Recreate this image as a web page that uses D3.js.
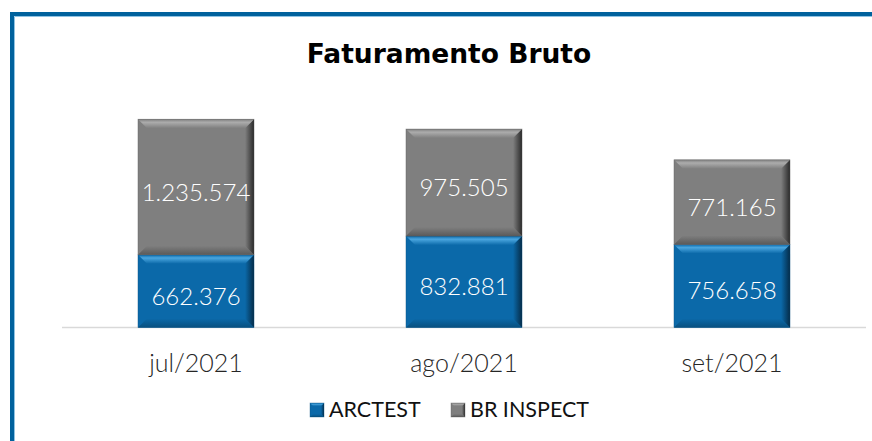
<!DOCTYPE html>
<html>
<head>
<meta charset="utf-8">
<script src="https://cdn.jsdelivr.net/npm/d3@7"></script>
<style>
  body { margin: 0; background: #fff; }
  svg text { font-family: "Century Gothic", Lato, sans-serif; }
</style>
</head>
<body>
<svg width="872" height="441"></svg>
<script>
var categories = ["jul/2021", "ago/2021", "set/2021"];
var arctest = [662376, 832881, 756658];
var brInspect = [1235574, 975505, 771165];
var seriesNames = ["ARCTEST", "BR INSPECT"];

var svg = d3.select("svg"),
    width = +svg.attr("width"),
    height = +svg.attr("height");

// pt-br number format: 1.235.574
var fmt = d3.formatLocale({decimal: ",", thousands: ".", grouping: [3], currency: ["R$", ""]}).format(",d");

// colours for each series
var pal = [
  {id: "b", face: "#0b69a9", light: "#4aa6df", dark: "#052c48", low: "#08507f"},
  {id: "g", face: "#7f7f7f", light: "#acacac", dark: "#2a2a2a", low: "#5a5a5a"}
];

var defs = svg.append("defs");
pal.forEach(function(p) {
    var top = defs.append("linearGradient").attr("id", p.id + "top")
        .attr("x1", 0).attr("y1", 0).attr("x2", 0).attr("y2", 1);
    top.append("stop").attr("offset", 0).attr("stop-color", p.face);
    top.append("stop").attr("offset", 0.35).attr("stop-color", p.light);
    top.append("stop").attr("offset", 1).attr("stop-color", p.face);
    var right = defs.append("linearGradient").attr("id", p.id + "right")
        .attr("x1", 0).attr("y1", 0).attr("x2", 1).attr("y2", 0);
    right.append("stop").attr("offset", 0).attr("stop-color", p.face);
    right.append("stop").attr("offset", 1).attr("stop-color", p.dark);
    var bot = defs.append("linearGradient").attr("id", p.id + "bot")
        .attr("x1", 0).attr("y1", 0).attr("x2", 0).attr("y2", 1);
    bot.append("stop").attr("offset", 0).attr("stop-color", p.face);
    bot.append("stop").attr("offset", 1).attr("stop-color", p.low);
});

// frame (only left and top edges show)
svg.append("path")
    .attr("d", "M12,441 V14 H872")
    .attr("fill", "none")
    .attr("stroke", "#00629d")
    .attr("stroke-width", 4);
svg.append("path")
    .attr("d", "M14.5,441 V16.5 H872")
    .attr("fill", "none")
    .attr("stroke", "#8fc3e3")
    .attr("stroke-width", 1);

svg.append("text")
    .attr("x", 449)
    .attr("y", 63)
    .attr("text-anchor", "middle")
    .attr("font-size", 26.5)
    .attr("font-weight", "bold")
    .attr("fill", "#000")
    .style("font-family", "'DejaVu Sans', sans-serif")
    .text("Faturamento Bruto");

var x = d3.scaleBand()
    .domain(categories)
    .range([62, 866])
    .paddingInner(0.567)
    .paddingOuter(0.2835);

var y = d3.scaleLinear()
    .domain([0, 2000000])
    .range([327.5, 108]);

// baseline
svg.append("line")
    .attr("x1", 62).attr("x2", 866)
    .attr("y1", y(0)).attr("y2", y(0))
    .attr("stroke", "#d9d9d9")
    .attr("stroke-width", 1.5);

var stackData = categories.map(function(c, i) {
    return {cat: c, ARCTEST: arctest[i], "BR INSPECT": brInspect[i]};
});
var stacked = d3.stack().keys(seriesNames)(stackData);

// draws a bevelled rectangle
function bevel(g, x0, y0, w, h, p, b) {
    var x1 = x0 + w, y1 = y0 + h;
    g.append("rect").attr("x", x0).attr("y", y0).attr("width", w).attr("height", h).attr("fill", p.face);
    g.append("polygon")
        .attr("points", [[x0, y1], [x1, y1], [x1 - b, y1 - b], [x0 + b, y1 - b]].join(" "))
        .attr("fill", "url(#" + p.id + "bot)");
    g.append("polygon")
        .attr("points", [[x1, y0], [x1, y1], [x1 - b, y1 - b], [x1 - b, y0 + b]].join(" "))
        .attr("fill", "url(#" + p.id + "right)");
    g.append("polygon")
        .attr("points", [[x0, y0], [x1, y0], [x1 - b, y0 + b], [x0 + b, y0 + b]].join(" "))
        .attr("fill", "url(#" + p.id + "top)");
    g.append("rect").attr("x", x0).attr("y", y0).attr("width", w).attr("height", h)
        .attr("fill", "none").attr("stroke", p.low).attr("stroke-width", 0.6).attr("stroke-opacity", 0.6);
}

var bars = svg.append("g").attr("class", "bars");
stacked.forEach(function(layer, si) {
    layer.forEach(function(d) {
        var g = bars.append("g");
        bevel(g, x(d.data.cat), y(d[1]), x.bandwidth(), y(d[0]) - y(d[1]), pal[si], 9);
    });
});

// value labels
stacked.forEach(function(layer) {
    svg.append("g").selectAll("text")
        .data(layer)
        .enter().append("text")
        .attr("x", function(d) { return x(d.data.cat) + x.bandwidth() / 2; })
        .attr("y", function(d) { return (y(d[0]) + y(d[1])) / 2 + 4; })
        .attr("text-anchor", "middle")
        .attr("dominant-baseline", "central")
        .attr("font-size", 24)
        .attr("font-weight", 300)
        .attr("fill", "#fff")
        .text(function(d) { return fmt(d[1] - d[0]); });
});

// category labels
svg.append("g").selectAll("text")
    .data(categories)
    .enter().append("text")
    .attr("x", function(d) { return x(d) + x.bandwidth() / 2; })
    .attr("y", 372)
    .attr("text-anchor", "middle")
    .attr("font-size", 25)
    .attr("font-weight", 300)
    .attr("fill", "#262626")
    .text(function(d) { return d; });

// legend
var legX = [310, 451];
seriesNames.forEach(function(name, i) {
    var g = svg.append("g");
    bevel(g, legX[i], 403, 14, 14, pal[i], 3);
    g.append("text")
        .attr("x", legX[i] + 19)
        .attr("y", 417)
        .attr("font-size", 21.5)
        .attr("fill", "#111")
        .text(name);
});
</script>
</body>
</html>
